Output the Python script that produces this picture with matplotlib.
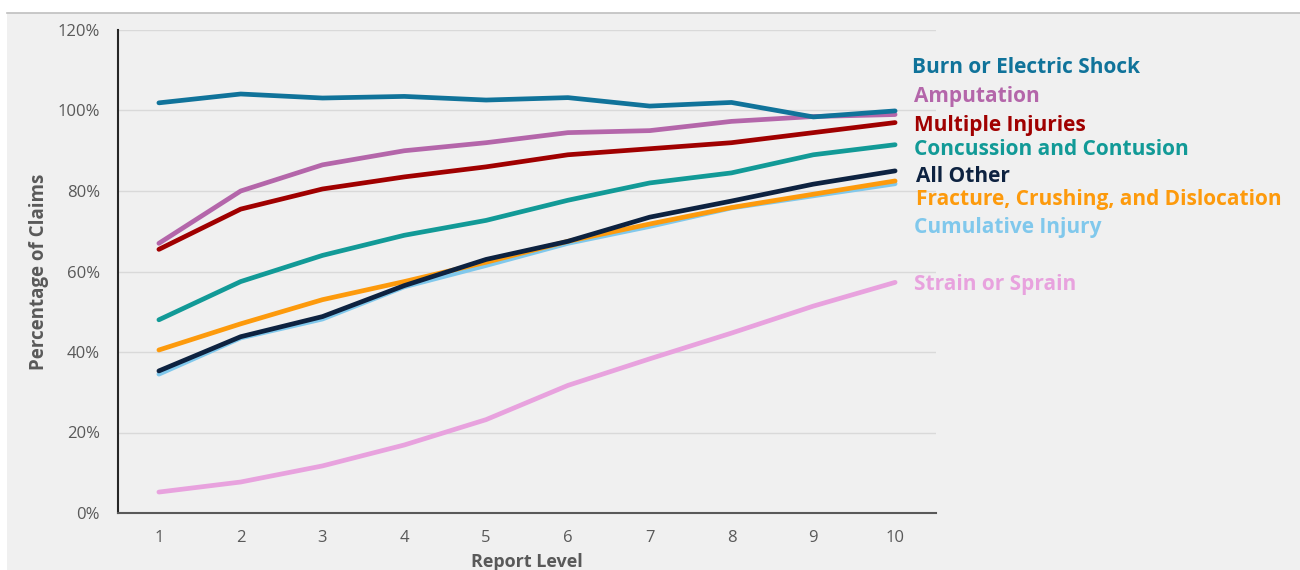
import matplotlib
matplotlib.use("Agg")
import matplotlib.pyplot as plt
from matplotlib.ticker import FuncFormatter
from matplotlib.patches import Rectangle

plt.rcParams['font.family'] = ['Open Sans', 'DejaVu Sans']

report_levels = [1, 2, 3, 4, 5, 6, 7, 8, 9, 10]

burn = [101.9, 104.1, 103.1, 103.5, 102.6, 103.2, 101.1, 102.0, 98.4, 99.9]
amputation = [67.0, 80.0, 86.5, 90.0, 92.0, 94.5, 95.0, 97.3, 98.5, 99.0]
multiple = [65.5, 75.5, 80.5, 83.5, 86.0, 89.0, 90.5, 92.0, 94.5, 97.0]
concussion = [48.0, 57.5, 64.0, 69.0, 72.7, 77.7, 82.0, 84.5, 89.0, 91.5]
cumulative = [34.5, 43.5, 48.2, 56.2, 61.5, 67.0, 71.2, 75.8, 78.8, 81.8]
fracture = [40.5, 47.0, 53.0, 57.5, 62.3, 67.5, 71.8, 75.9, 79.2, 82.5]
all_other = [35.3, 43.8, 48.8, 56.5, 63.0, 67.5, 73.5, 77.5, 81.7, 85.0]
strain = [5.2, 7.7, 11.7, 16.9, 23.2, 31.7, 38.3, 44.7, 51.4, 57.3]

names = ["Burn or Electric Shock", "Amputation", "Multiple Injuries",
         "Concussion and Contusion", "All Other",
         "Fracture, Crushing, and Dislocation", "Cumulative Injury",
         "Strain or Sprain"]
series = [burn, amputation, multiple, concussion, all_other, fracture,
          cumulative, strain]
colors = ["#10739a", "#b466aa", "#a00000", "#129a97", "#0d2240",
          "#fd9a0c", "#80c8ec", "#e8a2de"]
label_y = [110.6, 103.5, 96.2, 90.2, 83.6, 77.8, 70.9, 56.7]
label_x = [10.21, 10.23, 10.23, 10.23, 10.25, 10.25, 10.23, 10.23]

# drawing order (bottom to top)
draw_order = [7, 6, 5, 4, 3, 2, 1, 0]

fig = plt.figure(figsize=(13, 5.7), dpi=100)
fig.patch.set_facecolor("white")
bg = Rectangle((7 / 1300, 0), 1 - 7 / 1300, 1 - 13 / 570, transform=fig.transFigure,
               facecolor="#f0f0f0", edgecolor="none", zorder=-10)
fig.add_artist(bg)
fig.add_artist(plt.Line2D([7 / 1300, 1], [1 - 13 / 570, 1 - 13 / 570],
                          transform=fig.transFigure, color="#bfbfbf", lw=1.2))

ax = fig.add_axes([118 / 1300, 1 - 513 / 570, (936 - 118) / 1300, (513 - 30) / 570])
ax.set_facecolor("#f0f0f0")

for i in draw_order:
    ax.plot(report_levels, series[i], color=colors[i], lw=3.4,
            solid_capstyle="round", zorder=3)

for i in range(len(names)):
    ax.text(label_x[i], label_y[i], names[i], color=colors[i], fontsize=15,
            fontweight="bold", va="center", ha="left", clip_on=False)

ax.set_xlim(0.5, 10.5)
ax.set_ylim(0, 120)
ax.set_xticks(report_levels)
ax.set_yticks([0, 20, 40, 60, 80, 100, 120])
ax.yaxis.set_major_formatter(FuncFormatter(lambda v, p: f"{v:.0f}%"))
ax.grid(axis="y", color="#d9d9d9", lw=1)
ax.set_axisbelow(True)
ax.tick_params(axis="both", length=0, labelsize=12, colors="#595959", pad=12)
ax.tick_params(axis="y", pad=13)

for s in ["top", "right"]:
    ax.spines[s].set_visible(False)
ax.spines["left"].set_color("#262626")
ax.spines["left"].set_linewidth(1.5)
ax.spines["bottom"].set_color("#595959")
ax.spines["bottom"].set_linewidth(1.5)

ax.set_ylabel("Percentage of Claims", fontsize=13.5, fontweight="bold",
              color="#595959", labelpad=6)
ax.set_xlabel("Report Level", fontsize=13, fontweight="bold",
              color="#595959", labelpad=5)

fig.savefig("out.png", dpi=100, facecolor="white")
